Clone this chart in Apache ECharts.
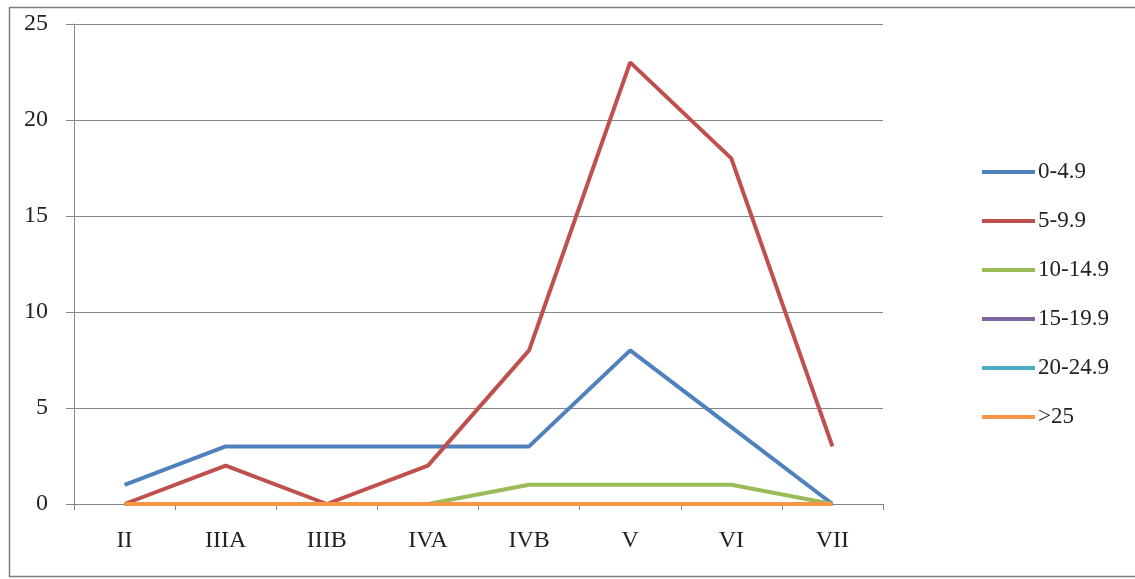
<!DOCTYPE html>
<html>
<head>
<meta charset="utf-8">
<script src="https://cdn.jsdelivr.net/npm/echarts@6/dist/echarts.min.js"></script>
<style>
html,body{margin:0;padding:0;background:#fff;}
#c{width:1135px;height:579px;}
</style>
</head>
<body>
<div id="c"></div>
<script>
const categories = ['II','IIIA','IIIB','IVA','IVB','V','VI','VII'];
const seriesNames = ['0-4.9','5-9.9','10-14.9','15-19.9','20-24.9','>25'];
const s0 = [1,3,3,3,3,8,4,0];
const s1 = [0,2,0,2,8,23,18,3];
const s2 = [0,0,0,0,1,1,1,0];
const s3 = [0,0,0,0,0,0,0,0];
const s4 = [0,0,0,0,0,0,0,0];
const s5 = [0,0,0,0,0,0,0,0];
const yTicks = [0,5,10,15,20,25];
const colors = ['#4F81BD','#C0504D','#9BBB59','#8064A2','#4BACC6','#F79646'];
const allData = [s0,s1,s2,s3,s4,s5];

const font = '"Liberation Serif","DejaVu Serif",serif';
const chart = echarts.init(document.getElementById('c'), null, {renderer:'canvas'});
chart.setOption({
  animation:false,
  backgroundColor:'#fff',
  color: colors,
  graphic:[{type:'rect', shape:{x:9.5,y:7.5,width:1140,height:569}, style:{fill:'none', stroke:'#7f7f7f', lineWidth:1.5}, silent:true}],
  grid:{left:74,right:252,top:24,bottom:75,containLabel:false},
  legend:{
    orient:'vertical', left:982, top:160, padding:0,
    icon:'rect', itemWidth:53, itemHeight:4, itemGap:25,
    textStyle:{fontFamily:font, fontSize:23, color:'#222', padding:[0,0,0,-2], lineHeight:24},
    data: seriesNames
  },
  xAxis:{
    type:'category', data:categories, boundaryGap:true,
    axisLine:{lineStyle:{color:'#868686', width:1}},
    axisTick:{show:true, length:6, lineStyle:{color:'#868686'}},
    axisLabel:{fontFamily:font, fontSize:24, color:'#222', margin:25}
  },
  yAxis:{
    type:'value', min:0, max:25, interval:5,
    axisLine:{show:true, lineStyle:{color:'#868686', width:1}},
    axisTick:{show:true, length:8, lineStyle:{color:'#868686'}},
    splitLine:{show:true, lineStyle:{color:'#868686', width:1}},
    axisLabel:{fontFamily:font, fontSize:24, color:'#222', margin:26,
      formatter: v => yTicks.includes(v) ? String(v) : ''}
  },
  series: seriesNames.map((n,i)=>({
    name:n, type:'line', data:allData[i], symbol:'none',
    lineStyle:{width:4, color:colors[i]}, itemStyle:{color:colors[i]}
  }))
});
</script>
</body>
</html>
